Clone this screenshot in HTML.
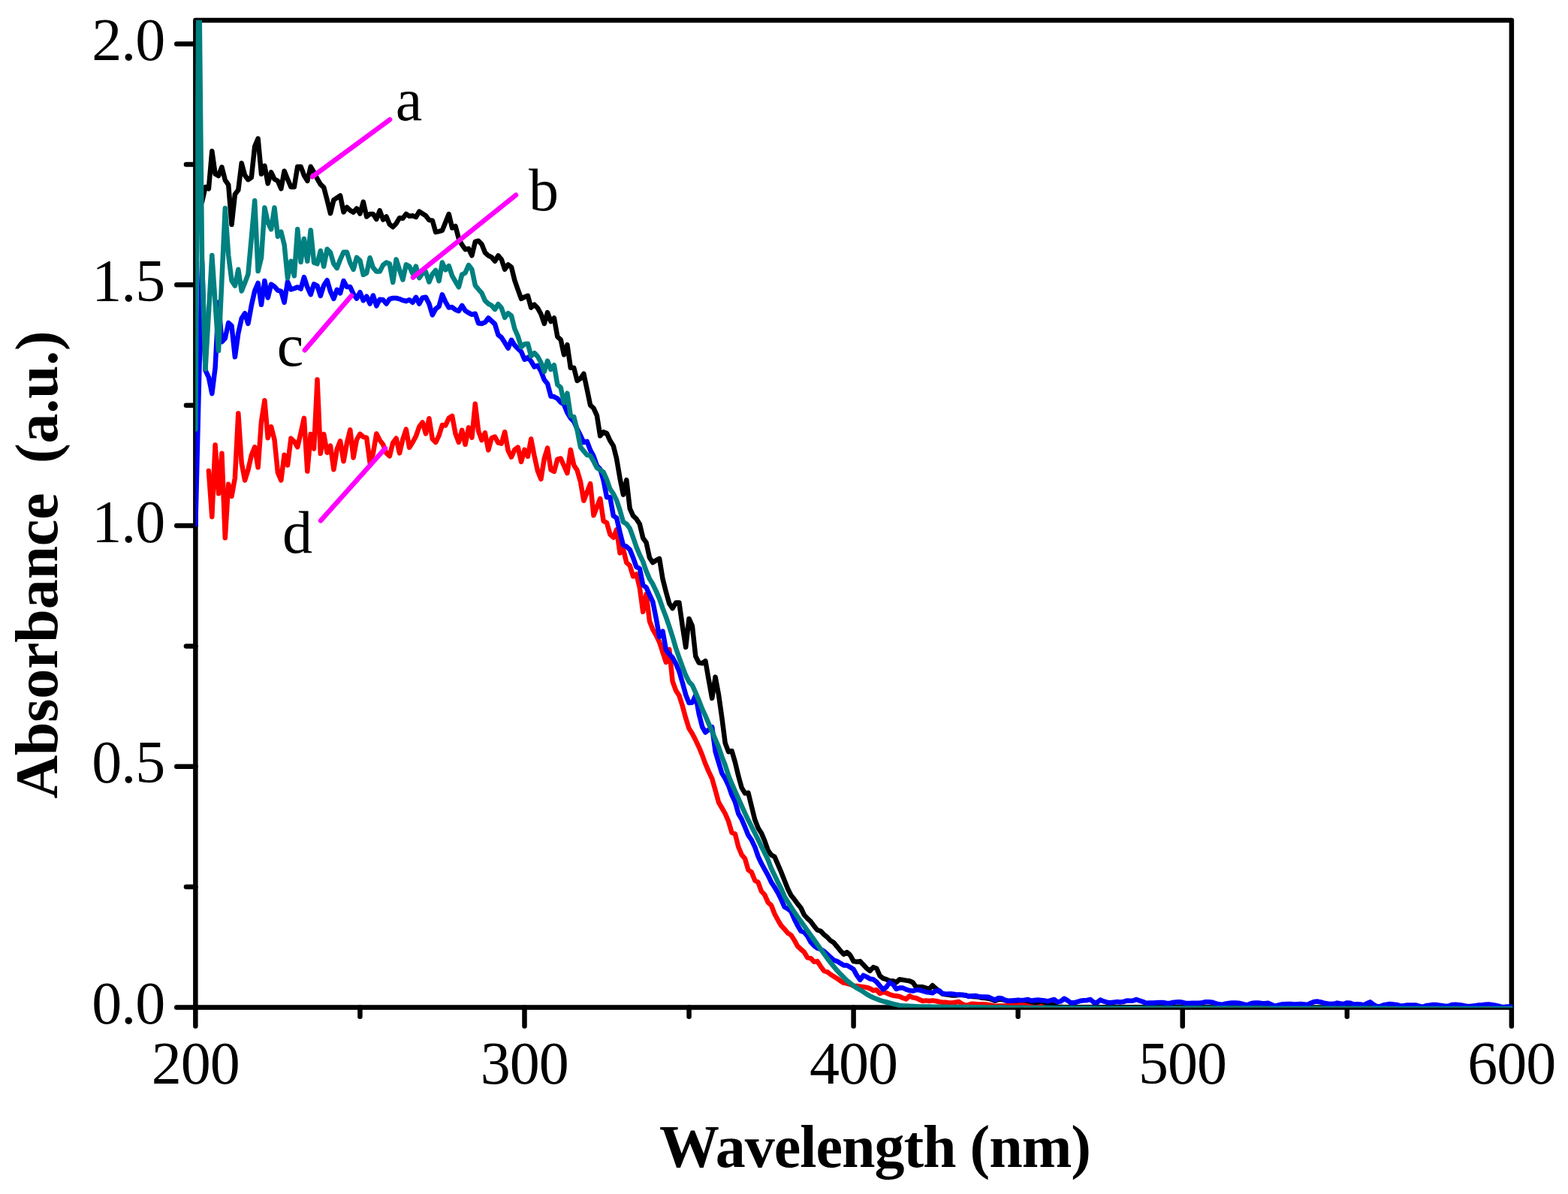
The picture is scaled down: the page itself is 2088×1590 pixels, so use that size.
<!DOCTYPE html>
<html><head><meta charset="utf-8"><title>UV-Vis absorbance spectra</title>
<style>
html,body{margin:0;padding:0;background:#fff;}
body{width:2088px;height:1590px;overflow:hidden;}
svg{display:block;}
text{font-family:"Liberation Serif",serif;fill:#000;}
.t{font-size:80px;letter-spacing:-1px;}
.b{font-size:80px;font-weight:bold;}
</style></head><body>
<svg width="2088" height="1590" viewBox="0 0 2088 1590">
<rect width="2088" height="1590" fill="#fff"/>
<g stroke="#000" stroke-width="6.5" stroke-linecap="round" stroke-linejoin="round" fill="none">
<rect x="260.35" y="27.00" width="1752.50" height="1314.45"/>
<line x1="235.25" y1="1341.45" x2="260.35" y2="1341.45"/>
<line x1="247.95" y1="1181.09" x2="260.35" y2="1181.09"/>
<line x1="235.25" y1="1020.74" x2="260.35" y2="1020.74"/>
<line x1="247.95" y1="860.38" x2="260.35" y2="860.38"/>
<line x1="235.25" y1="700.02" x2="260.35" y2="700.02"/>
<line x1="247.95" y1="539.67" x2="260.35" y2="539.67"/>
<line x1="235.25" y1="379.31" x2="260.35" y2="379.31"/>
<line x1="247.95" y1="218.96" x2="260.35" y2="218.96"/>
<line x1="235.25" y1="58.60" x2="260.35" y2="58.60"/>
<line x1="260.35" y1="1341.45" x2="260.35" y2="1366.55"/>
<line x1="479.41" y1="1341.45" x2="479.41" y2="1353.85"/>
<line x1="698.48" y1="1341.45" x2="698.48" y2="1366.55"/>
<line x1="917.54" y1="1341.45" x2="917.54" y2="1353.85"/>
<line x1="1136.60" y1="1341.45" x2="1136.60" y2="1366.55"/>
<line x1="1355.66" y1="1341.45" x2="1355.66" y2="1353.85"/>
<line x1="1574.72" y1="1341.45" x2="1574.72" y2="1366.55"/>
<line x1="1793.79" y1="1341.45" x2="1793.79" y2="1353.85"/>
<line x1="2012.85" y1="1341.45" x2="2012.85" y2="1366.55"/>
</g>
<defs><clipPath id="c"><rect x="260.15" y="26.80" width="1754.10" height="1315.05"/></clipPath></defs>
<g clip-path="url(#c)">
<polyline points="260.4,300.0 264.7,275.0 269.1,268.6 273.5,249.0 277.9,251.3 282.3,201.2 286.6,231.7 291.0,234.0 295.4,222.5 299.8,239.8 304.2,246.1 308.5,299.1 312.9,258.8 317.3,253.0 321.7,217.3 326.1,233.5 330.4,239.2 334.8,236.3 339.2,194.9 343.6,184.5 348.0,231.7 352.4,220.8 356.7,244.4 361.1,229.4 365.5,238.6 369.9,240.9 374.3,251.3 378.6,227.7 383.0,238.6 387.4,249.0 391.8,249.0 396.2,221.9 400.6,221.9 404.9,233.5 409.3,240.9 413.7,221.9 418.1,229.4 422.5,238.1 426.8,245.5 431.2,249.6 435.6,266.3 440.0,284.1 444.4,266.3 448.7,263.4 453.1,260.5 457.5,282.4 461.9,276.0 466.3,280.1 470.6,282.7 475.0,277.6 479.4,284.5 483.8,268.9 488.2,288.5 492.6,285.0 496.9,285.0 501.3,291.9 505.7,280.4 510.1,292.5 514.5,288.5 518.8,298.8 523.2,302.3 527.6,297.7 532.0,290.2 536.4,290.8 540.8,285.0 545.1,287.9 549.5,287.3 553.9,289.1 558.3,281.6 562.7,284.5 567.0,287.3 571.4,293.1 575.8,293.7 580.2,309.2 584.6,308.1 588.9,306.9 593.3,296.0 597.7,285.0 602.1,303.5 606.5,301.2 610.9,317.8 615.2,325.9 619.6,332.2 624.0,331.1 628.4,340.3 632.8,321.9 637.1,320.7 641.5,325.3 645.9,336.3 650.3,340.3 654.7,342.6 659.0,347.8 663.4,340.3 667.8,345.5 672.2,358.7 676.6,352.4 681.0,355.8 685.3,373.1 689.7,385.8 694.1,397.8 698.5,395.5 702.9,393.8 707.2,409.7 711.6,405.7 716.0,410.3 720.4,418.3 724.8,431.0 729.1,416.0 733.5,428.1 737.9,423.5 742.3,448.3 746.7,452.3 751.0,472.4 755.4,459.2 759.8,489.7 764.2,489.7 768.6,507.0 773.0,504.1 777.3,497.8 781.7,518.5 786.1,539.6 790.5,543.6 794.9,553.4 799.2,580.4 803.6,575.3 808.0,577.0 812.4,586.8 816.8,593.7 821.1,610.9 825.5,636.8 829.9,658.7 834.3,639.1 838.7,677.1 843.1,686.9 847.4,690.9 851.8,697.8 856.2,716.3 860.6,722.6 865.0,742.7 869.3,749.1 873.7,746.2 878.1,743.9 882.5,770.9 886.9,788.2 891.2,803.7 895.6,810.1 900.0,802.6 904.4,802.6 908.8,833.7 913.2,861.9 917.5,823.9 921.9,833.7 926.3,874.0 930.7,882.6 935.1,883.2 939.4,880.3 943.8,905.6 948.2,929.8 952.6,901.6 957.0,925.2 961.4,956.3 965.7,989.6 970.1,1001.2 974.5,1000.0 978.9,1015.0 983.3,1033.4 987.6,1048.9 992.0,1056.4 996.4,1055.8 1000.8,1073.7 1005.2,1091.5 1009.5,1102.4 1013.9,1109.4 1018.3,1119.7 1022.7,1132.4 1027.1,1138.7 1031.5,1141.0 1035.8,1151.1 1040.2,1161.3 1044.6,1172.4 1049.0,1183.5 1053.4,1192.2 1057.7,1197.6 1062.1,1203.6 1066.5,1209.0 1070.9,1218.4 1075.3,1223.1 1079.6,1227.1 1084.0,1233.1 1088.4,1238.5 1092.8,1239.8 1097.2,1244.5 1101.5,1247.9 1105.9,1252.6 1110.3,1255.3 1114.7,1260.6 1119.1,1266.0 1123.5,1270.7 1127.8,1268.0 1132.2,1272.0 1136.6,1280.1 1141.0,1280.7 1145.4,1280.1 1149.7,1284.8 1154.1,1289.5 1158.5,1292.8 1162.9,1288.1 1167.3,1289.5 1171.7,1299.5 1176.0,1302.9 1180.4,1304.2 1184.8,1306.2 1189.2,1306.2 1193.6,1308.2 1197.9,1304.2 1202.3,1304.9 1206.7,1305.6 1211.1,1306.2 1215.5,1308.2 1219.8,1314.3 1224.2,1314.3 1228.6,1314.3 1233.0,1315.6 1237.4,1317.0 1241.8,1312.3 1246.1,1316.3 1250.5,1320.2 1254.9,1323.5 1259.3,1324.2 1263.7,1324.9 1268.0,1325.5 1272.4,1325.5 1276.8,1324.9 1281.2,1324.9 1285.6,1325.4 1289.9,1326.4 1294.3,1326.9 1298.7,1327.3 1303.1,1327.6 1307.5,1328.8 1311.8,1329.1 1316.2,1329.7 1320.6,1330.9 1325.0,1332.8 1329.4,1330.9 1333.8,1330.7 1338.1,1332.2 1342.5,1333.2 1346.9,1332.8 1351.3,1332.8 1355.7,1332.8 1360.0,1332.8 1364.4,1333.7 1368.8,1334.7 1373.2,1335.7 1377.6,1335.9 1382.0,1336.2 1386.3,1336.5 1390.7,1335.9 1395.1,1335.3 1399.5,1336.5 1403.9,1338.4 1408.2,1341.0 1412.6,1341.1 1417.0,1341.2 1421.4,1341.2 1425.8,1341.2 1430.1,1341.2 1434.5,1341.2 1438.9,1341.2 1443.3,1341.2 1447.7,1341.2 1452.0,1341.2 1456.4,1341.2 1460.8,1341.2 1465.2,1341.2 1469.6,1341.2 1474.0,1341.2 1478.3,1341.2 1482.7,1341.2 1487.1,1341.2 1491.5,1341.2 1495.9,1341.2 1500.2,1341.3 1504.6,1341.3 1509.0,1341.3 1513.4,1341.3 1517.8,1341.3 1522.2,1341.3 1526.5,1341.3 1530.9,1341.3 1535.3,1341.3 1539.7,1341.3 1544.1,1341.3 1548.4,1341.3 1552.8,1341.3 1557.2,1341.3 1561.6,1341.3 1566.0,1341.3 1570.3,1341.3 1574.7,1341.3 1579.1,1341.3 1583.5,1341.4 1587.9,1341.4 1592.2,1341.5 1596.6,1341.5 1601.0,1341.6 1605.4,1341.6 1609.8,1341.6 1614.2,1341.7 1618.5,1341.7 1622.9,1341.8 1627.3,1341.8 1631.7,1341.9 1636.1,1341.9 1640.4,1341.9 1644.8,1342.0 1649.2,1342.0 1653.6,1342.1 1658.0,1342.1 1662.3,1342.2 1666.7,1342.2 1671.1,1342.3 1675.5,1342.3 1679.9,1342.3 1684.3,1342.4 1688.6,1342.4 1693.0,1342.5 1697.4,1342.5 1701.8,1342.6 1706.2,1342.6 1710.5,1342.6 1714.9,1342.6 1719.3,1342.6 1723.7,1342.6 1728.1,1342.6 1732.5,1342.6 1736.8,1342.6 1741.2,1342.6 1745.6,1342.7 1750.0,1342.7 1754.4,1342.7 1758.7,1342.7 1763.1,1342.7 1767.5,1342.7 1771.9,1342.7 1776.3,1342.7 1780.6,1342.7 1785.0,1342.7 1789.4,1342.7 1793.8,1342.7 1798.2,1342.7 1802.5,1342.7 1806.9,1342.7 1811.3,1342.7 1815.7,1342.7 1820.1,1342.7 1824.5,1342.8 1828.8,1342.8 1833.2,1342.8 1837.6,1342.8 1842.0,1342.8 1846.4,1342.8 1850.7,1342.8 1855.1,1342.8 1859.5,1342.8 1863.9,1342.8 1868.3,1342.8 1872.7,1342.8 1877.0,1342.8 1881.4,1342.8 1885.8,1342.8 1890.2,1342.8 1894.6,1342.8 1898.9,1342.9 1903.3,1342.9 1907.7,1342.9 1912.1,1342.9 1916.5,1342.9 1920.8,1342.9 1925.2,1342.9 1929.6,1342.9 1934.0,1342.9 1938.4,1342.9 1942.8,1342.9 1947.1,1342.9 1951.5,1342.9 1955.9,1342.9 1960.3,1342.9 1964.7,1342.9 1969.0,1342.9 1973.4,1342.9 1977.8,1343.0 1982.2,1343.0 1986.6,1343.0 1990.9,1343.0 1995.3,1343.0 1999.7,1343.0 2004.1,1343.0 2008.5,1343.0 2012.8,1343.0" fill="none" stroke="#000" stroke-width="6.5" stroke-linejoin="round" stroke-linecap="round"/>
<polyline points="277.9,627.1 282.3,688.2 286.6,592.4 291.0,657.2 295.4,603.8 299.8,716.3 304.2,644.8 308.5,660.9 312.9,636.5 317.3,550.4 321.7,616.6 326.1,639.6 330.4,625.8 334.8,606.3 339.2,595.3 343.6,622.4 348.0,561.4 352.4,533.2 356.7,583.2 361.1,568.3 365.5,585.5 369.9,629.3 374.3,639.6 378.6,605.7 383.0,619.5 387.4,583.8 391.8,587.8 396.2,595.3 400.6,576.3 404.9,556.8 409.3,627.6 413.7,578.1 418.1,597.6 422.5,505.5 426.8,604.0 431.2,578.1 435.6,602.8 440.0,593.6 444.4,625.3 448.7,598.2 453.1,587.3 457.5,614.3 461.9,590.1 466.3,572.3 470.6,609.4 475.0,585.5 479.4,577.8 483.8,581.8 488.2,582.9 492.6,616.0 496.9,603.4 501.3,577.5 505.7,586.1 510.1,591.9 514.5,603.4 518.8,607.4 523.2,589.6 527.6,583.8 532.0,603.4 536.4,585.0 540.8,571.7 545.1,595.9 549.5,589.0 553.9,580.9 558.3,568.3 562.7,562.5 567.0,577.5 571.4,557.3 575.8,584.4 580.2,589.0 584.6,579.8 588.9,566.0 593.3,566.5 597.7,556.8 602.1,553.9 606.5,577.5 610.9,589.0 615.2,572.9 619.6,591.9 624.0,569.4 628.4,582.7 632.8,537.8 637.1,574.0 641.5,586.1 645.9,576.3 650.3,599.4 654.7,583.2 659.0,581.5 663.4,589.6 667.8,590.7 672.2,575.2 676.6,599.9 681.0,608.7 685.3,598.9 689.7,595.7 694.1,615.0 698.5,598.9 702.9,607.8 707.2,584.5 711.6,607.1 716.0,627.2 720.4,638.1 724.8,610.5 729.1,596.7 733.5,625.5 737.9,627.8 742.3,611.7 746.7,610.5 751.0,620.3 755.4,630.1 759.8,599.0 764.2,619.4 768.6,626.3 773.0,641.5 777.3,666.8 781.7,655.3 786.1,644.1 790.5,686.3 794.9,675.2 799.2,664.0 803.6,693.8 808.0,696.1 812.4,711.7 816.8,715.7 821.1,705.3 825.5,736.4 829.9,731.2 834.3,749.1 838.7,753.1 843.1,767.5 847.4,764.6 851.8,782.4 856.2,814.7 860.6,791.1 865.0,827.3 869.3,838.3 873.7,845.8 878.1,855.0 882.5,868.8 886.9,882.0 891.2,864.7 895.6,907.3 900.0,919.4 904.4,926.3 908.8,940.1 913.2,956.3 917.5,970.1 921.9,977.0 926.3,985.6 930.7,994.8 935.1,1005.5 939.4,1017.3 943.8,1027.6 948.2,1036.8 952.6,1052.4 957.0,1068.5 961.4,1076.0 965.7,1083.5 970.1,1093.8 974.5,1108.8 978.9,1110.5 983.3,1127.8 987.6,1138.1 992.0,1143.3 996.4,1158.3 1000.8,1161.5 1005.2,1172.4 1009.5,1174.9 1013.9,1186.9 1018.3,1191.6 1022.7,1201.6 1027.1,1205.7 1031.5,1217.0 1035.8,1225.1 1040.2,1232.5 1044.6,1237.2 1049.0,1242.5 1053.4,1245.2 1057.7,1251.9 1062.1,1260.0 1066.5,1264.0 1070.9,1268.0 1075.3,1275.4 1079.6,1276.1 1084.0,1280.7 1088.4,1280.1 1092.8,1286.8 1097.2,1292.8 1101.5,1294.2 1105.9,1297.5 1110.3,1300.2 1114.7,1302.9 1119.1,1306.2 1123.5,1308.9 1127.8,1309.6 1132.2,1310.9 1136.6,1312.9 1141.0,1312.9 1145.4,1313.6 1149.7,1314.3 1154.1,1314.9 1158.5,1316.3 1162.9,1319.0 1167.3,1318.3 1171.7,1323.0 1176.0,1321.0 1180.4,1322.3 1184.8,1324.3 1189.2,1325.7 1193.6,1326.3 1197.9,1327.0 1202.3,1329.0 1206.7,1330.4 1211.1,1326.3 1215.5,1328.4 1219.8,1329.0 1224.2,1331.0 1228.6,1333.0 1233.0,1332.4 1237.4,1333.0 1241.8,1332.4 1246.1,1333.0 1250.5,1334.0 1254.9,1334.7 1259.3,1334.7 1263.7,1335.4 1268.0,1335.4 1272.4,1334.7 1276.8,1334.0 1281.2,1336.9 1285.6,1338.8 1289.9,1338.2 1294.3,1336.7 1298.7,1337.1 1303.1,1337.5 1307.5,1337.2 1311.8,1337.5 1316.2,1338.0 1320.6,1339.0 1325.0,1340.0 1329.4,1339.6 1333.8,1339.6 1338.1,1339.6 1342.5,1339.2 1346.9,1339.2 1351.3,1339.2 1355.7,1338.7 1360.0,1338.1 1364.4,1338.7 1368.8,1339.6 1373.2,1340.8 1377.6,1341.4 1382.0,1341.4 1386.3,1340.0 1390.7,1341.7 1395.1,1342.9 1399.5,1343.6 1403.9,1343.6 1408.2,1343.6 1412.6,1343.6 1417.0,1343.6 1421.4,1343.6 1425.8,1343.6 1430.1,1343.6 1434.5,1343.6 1438.9,1343.6 1443.3,1343.6 1447.7,1343.6 1452.0,1343.6 1456.4,1343.6 1460.8,1343.6 1465.2,1343.6 1469.6,1343.6 1474.0,1343.6 1478.3,1343.6 1482.7,1343.6 1487.1,1343.6 1491.5,1343.6 1495.9,1343.6 1500.2,1343.6 1504.6,1343.6 1509.0,1343.6 1513.4,1343.6 1517.8,1343.6 1522.2,1343.6 1526.5,1343.6 1530.9,1343.6 1535.3,1343.6 1539.7,1343.6 1544.1,1343.6 1548.4,1343.6 1552.8,1343.6 1557.2,1343.6 1561.6,1343.6 1566.0,1343.6 1570.3,1343.6 1574.7,1343.6 1579.1,1343.6 1583.5,1343.6 1587.9,1343.6 1592.2,1343.6 1596.6,1343.6 1601.0,1343.6 1605.4,1343.6 1609.8,1343.6 1614.2,1343.6 1618.5,1343.6 1622.9,1343.6 1627.3,1343.6 1631.7,1343.6 1636.1,1343.6 1640.4,1343.6 1644.8,1343.6 1649.2,1343.6 1653.6,1343.6 1658.0,1343.6 1662.3,1343.6 1666.7,1343.6 1671.1,1343.6 1675.5,1343.6 1679.9,1343.6 1684.3,1343.6 1688.6,1343.6 1693.0,1343.6 1697.4,1343.6 1701.8,1343.6 1706.2,1343.6 1710.5,1343.6 1714.9,1343.6 1719.3,1343.6 1723.7,1343.6 1728.1,1343.6 1732.5,1343.6 1736.8,1343.6 1741.2,1343.6 1745.6,1343.6 1750.0,1343.6 1754.4,1343.6 1758.7,1343.6 1763.1,1343.6 1767.5,1343.6 1771.9,1343.6 1776.3,1343.6 1780.6,1343.6 1785.0,1343.6 1789.4,1343.6 1793.8,1343.6 1798.2,1343.6 1802.5,1343.6 1806.9,1343.6 1811.3,1343.6 1815.7,1343.6 1820.1,1343.6 1824.5,1343.6 1828.8,1343.6 1833.2,1343.6 1837.6,1343.6 1842.0,1343.6 1846.4,1343.6 1850.7,1343.6 1855.1,1343.6 1859.5,1343.6 1863.9,1343.6 1868.3,1343.6 1872.7,1343.6 1877.0,1343.6 1881.4,1343.6 1885.8,1343.6 1890.2,1343.6 1894.6,1343.6 1898.9,1343.6 1903.3,1343.6 1907.7,1343.6 1912.1,1343.6 1916.5,1343.6 1920.8,1343.6 1925.2,1343.6 1929.6,1343.6 1934.0,1343.6 1938.4,1343.6 1942.8,1343.6 1947.1,1343.6 1951.5,1343.6 1955.9,1343.6 1960.3,1343.6 1964.7,1343.6 1969.0,1343.6 1973.4,1343.6 1977.8,1343.6 1982.2,1343.6 1986.6,1343.6 1990.9,1343.6 1995.3,1343.6 1999.7,1343.6 2004.1,1343.6 2008.5,1343.6 2012.8,1343.6" fill="none" stroke="#f00" stroke-width="6.5" stroke-linejoin="round" stroke-linecap="round"/>
<polyline points="260.4,698.4 264.7,520.0 269.1,348.0 273.5,493.2 277.9,502.4 282.3,524.2 286.6,489.7 291.0,402.8 295.4,455.2 299.8,450.6 304.2,429.9 308.5,433.9 312.9,475.3 317.3,443.7 321.7,424.1 326.1,417.2 330.4,431.0 334.8,406.8 339.2,387.3 343.6,376.9 348.0,405.7 352.4,374.0 356.7,396.5 361.1,378.6 365.5,381.5 369.9,386.7 374.3,387.8 378.6,402.8 383.0,375.2 387.4,385.5 391.8,384.1 396.2,382.4 400.6,384.7 404.9,369.1 409.3,382.4 413.7,392.2 418.1,378.3 422.5,380.6 426.8,393.9 431.2,380.1 435.6,373.2 440.0,388.1 444.4,397.9 448.7,385.8 453.1,390.4 457.5,374.0 461.9,382.1 466.3,382.1 470.6,391.3 475.0,397.6 479.4,389.2 483.8,400.2 488.2,394.7 492.6,404.5 496.9,393.5 501.3,407.3 505.7,398.7 510.1,399.3 514.5,404.5 518.8,398.1 523.2,397.0 527.6,397.0 532.0,398.1 536.4,399.9 540.8,401.0 545.1,399.3 549.5,402.7 553.9,395.8 558.3,404.5 562.7,396.4 567.0,395.8 571.4,404.5 575.8,419.4 580.2,411.4 584.6,407.9 588.9,392.4 593.3,402.2 597.7,409.6 602.1,409.1 606.5,412.5 610.9,414.2 615.2,406.8 619.6,413.7 624.0,416.5 628.4,418.8 632.8,417.7 637.1,430.4 641.5,430.9 645.9,429.2 650.3,423.5 654.7,427.5 659.0,431.5 663.4,445.9 667.8,449.4 672.2,456.3 676.6,463.7 681.0,452.8 685.3,459.7 689.7,464.4 694.1,468.4 698.5,478.7 702.9,475.9 707.2,481.0 711.6,488.6 716.0,486.8 720.4,494.3 724.8,505.8 729.1,511.0 733.5,527.7 737.9,528.3 742.3,530.6 746.7,535.8 751.0,538.6 755.4,549.6 759.8,556.8 764.2,561.4 768.6,571.2 773.0,579.9 777.3,589.1 781.7,587.9 786.1,599.4 790.5,607.5 794.9,620.1 799.2,624.7 803.6,639.7 808.0,662.2 812.4,662.2 816.8,686.9 821.1,689.8 825.5,708.8 829.9,726.0 834.3,727.8 838.7,731.8 843.1,742.7 847.4,754.8 851.8,757.1 856.2,779.0 860.6,782.4 865.0,792.2 869.3,801.4 873.7,823.3 878.1,848.1 882.5,840.6 886.9,865.3 891.2,871.1 895.6,875.7 900.0,883.7 904.4,894.1 908.8,909.1 913.2,925.2 917.5,936.1 921.9,935.5 926.3,925.8 930.7,950.5 935.1,967.8 939.4,975.3 943.8,971.8 948.2,968.3 952.6,1000.9 957.0,1015.5 961.4,1029.9 965.7,1036.8 970.1,1046.0 974.5,1058.7 978.9,1067.9 983.3,1083.5 987.6,1090.9 992.0,1101.3 996.4,1112.2 1000.8,1118.6 1005.2,1127.8 1009.5,1140.4 1013.9,1149.8 1018.3,1157.8 1022.7,1165.6 1027.1,1174.9 1031.5,1181.5 1035.8,1188.9 1040.2,1197.6 1044.6,1207.7 1049.0,1210.3 1053.4,1213.7 1057.7,1223.8 1062.1,1232.5 1066.5,1239.8 1070.9,1241.2 1075.3,1246.6 1079.6,1254.6 1084.0,1259.3 1088.4,1262.6 1092.8,1264.0 1097.2,1266.7 1101.5,1270.7 1105.9,1274.7 1110.3,1278.7 1114.7,1280.1 1119.1,1282.8 1123.5,1285.4 1127.8,1285.4 1132.2,1288.1 1136.6,1290.8 1141.0,1298.9 1145.4,1304.9 1149.7,1298.9 1154.1,1300.9 1158.5,1303.5 1162.9,1304.2 1167.3,1307.6 1171.7,1312.9 1176.0,1317.6 1180.4,1314.3 1184.8,1308.2 1189.2,1310.9 1193.6,1317.0 1197.9,1315.6 1202.3,1315.6 1206.7,1317.6 1211.1,1319.0 1215.5,1319.6 1219.8,1318.3 1224.2,1318.3 1228.6,1319.6 1233.0,1321.0 1237.4,1321.6 1241.8,1322.3 1246.1,1319.6 1250.5,1319.0 1254.9,1323.0 1259.3,1323.7 1263.7,1323.4 1268.0,1323.6 1272.4,1324.2 1276.8,1324.4 1281.2,1324.7 1285.6,1325.3 1289.9,1327.0 1294.3,1326.2 1298.7,1326.0 1303.1,1327.0 1307.5,1327.5 1311.8,1327.5 1316.2,1327.8 1320.6,1329.7 1325.0,1331.6 1329.4,1329.1 1333.8,1329.4 1338.1,1331.6 1342.5,1332.8 1346.9,1332.8 1351.3,1332.2 1355.7,1331.6 1360.0,1332.2 1364.4,1331.6 1368.8,1330.9 1373.2,1332.8 1377.6,1331.9 1382.0,1331.6 1386.3,1331.9 1390.7,1332.4 1395.1,1333.4 1399.5,1332.2 1403.9,1330.9 1408.2,1334.4 1412.6,1333.4 1417.0,1329.7 1421.4,1332.2 1425.8,1335.3 1430.1,1335.3 1434.5,1334.1 1438.9,1332.8 1443.3,1332.2 1447.7,1331.9 1452.0,1330.9 1456.4,1334.7 1460.8,1335.3 1465.2,1331.6 1469.6,1333.4 1474.0,1334.7 1478.3,1335.3 1482.7,1334.7 1487.1,1334.1 1491.5,1334.4 1495.9,1334.1 1500.2,1332.6 1504.6,1332.7 1509.0,1332.5 1513.4,1330.9 1517.8,1332.7 1522.2,1334.2 1526.5,1335.7 1530.9,1335.5 1535.3,1335.4 1539.7,1335.2 1544.1,1335.0 1548.4,1335.0 1552.8,1335.8 1557.2,1336.1 1561.6,1335.0 1566.0,1334.6 1570.3,1334.3 1574.7,1334.8 1579.1,1335.9 1583.5,1335.9 1587.9,1335.7 1592.2,1335.7 1596.6,1335.7 1601.0,1335.1 1605.4,1334.3 1609.8,1334.2 1614.2,1334.7 1618.5,1336.0 1622.9,1337.3 1627.3,1337.8 1631.7,1336.7 1636.1,1335.9 1640.4,1335.5 1644.8,1335.5 1649.2,1335.7 1653.6,1336.7 1658.0,1337.9 1662.3,1337.7 1666.7,1336.0 1671.1,1335.6 1675.5,1335.6 1679.9,1336.1 1684.3,1336.2 1688.6,1335.7 1693.0,1337.7 1697.4,1339.8 1701.8,1338.6 1706.2,1337.6 1710.5,1337.3 1714.9,1336.9 1719.3,1336.9 1723.7,1337.6 1728.1,1337.3 1732.5,1337.0 1736.8,1337.4 1741.2,1337.9 1745.6,1335.8 1750.0,1333.9 1754.4,1333.6 1758.7,1334.5 1763.1,1335.6 1767.5,1336.5 1771.9,1337.0 1776.3,1336.8 1780.6,1335.6 1785.0,1336.5 1789.4,1337.0 1793.8,1335.4 1798.2,1335.8 1802.5,1337.5 1806.9,1337.2 1811.3,1337.5 1815.7,1338.5 1820.1,1336.3 1824.5,1334.4 1828.8,1337.6 1833.2,1340.0 1837.6,1340.2 1842.0,1338.4 1846.4,1337.6 1850.7,1336.9 1855.1,1337.4 1859.5,1337.9 1863.9,1339.2 1868.3,1339.4 1872.7,1338.6 1877.0,1338.5 1881.4,1338.5 1885.8,1338.6 1890.2,1339.8 1894.6,1341.0 1898.9,1339.3 1903.3,1338.6 1907.7,1337.9 1912.1,1338.0 1916.5,1338.7 1920.8,1339.3 1925.2,1340.0 1929.6,1339.6 1934.0,1337.9 1938.4,1337.7 1942.8,1338.2 1947.1,1338.8 1951.5,1339.6 1955.9,1340.3 1960.3,1339.7 1964.7,1339.1 1969.0,1338.6 1973.4,1338.2 1977.8,1337.7 1982.2,1337.4 1986.6,1338.0 1990.9,1338.6 1995.3,1339.6 1999.7,1340.9 2004.1,1340.8 2008.5,1340.5 2012.8,1340.4" fill="none" stroke="#00f" stroke-width="6.5" stroke-linejoin="round" stroke-linecap="round"/>
<polyline points="260.4,571.5 264.7,-75.0 269.1,350.0 273.5,491.5 277.9,416.0 282.3,340.0 286.6,404.0 291.0,467.0 295.4,373.0 299.8,277.3 304.2,339.8 308.5,373.7 312.9,380.6 317.3,358.8 321.7,387.6 326.1,376.6 330.4,365.1 334.8,316.8 339.2,267.3 343.6,361.1 348.0,343.2 352.4,276.5 356.7,296.0 361.1,305.3 365.5,276.5 369.9,315.0 374.3,308.7 378.6,326.0 383.0,370.3 387.4,347.8 391.8,367.4 396.2,305.3 400.6,349.0 404.9,317.9 409.3,347.8 413.7,306.4 418.1,349.6 422.5,351.3 426.8,334.0 431.2,354.7 435.6,331.7 440.0,336.3 444.4,351.3 448.7,357.1 453.1,345.5 457.5,335.8 461.9,335.8 466.3,350.1 470.6,358.8 475.0,342.9 479.4,346.9 483.8,365.9 488.2,363.6 492.6,343.2 496.9,356.4 501.3,361.6 505.7,361.6 510.1,352.9 514.5,349.5 518.8,351.2 523.2,376.0 527.6,345.5 532.0,359.3 536.4,372.5 540.8,352.4 545.1,354.7 549.5,364.5 553.9,354.7 558.3,370.2 562.7,363.9 567.0,362.2 571.4,375.4 575.8,365.0 580.2,359.9 584.6,374.2 588.9,349.5 593.3,359.3 597.7,354.1 602.1,367.3 606.5,374.8 610.9,382.3 615.2,365.6 619.6,363.3 624.0,353.1 628.4,358.8 632.8,379.9 637.1,385.3 641.5,390.2 645.9,400.4 650.3,404.5 654.7,406.8 659.0,411.9 663.4,405.0 667.8,410.2 672.2,422.9 676.6,417.1 681.0,420.6 685.3,437.8 689.7,447.7 694.1,462.1 698.5,458.3 702.9,457.7 707.2,474.1 711.6,470.1 716.0,474.7 720.4,482.8 724.8,494.9 729.1,480.5 733.5,492.0 737.9,486.3 742.3,512.2 746.7,516.2 751.0,536.3 755.4,523.7 759.8,553.4 764.2,555.1 768.6,572.9 773.0,595.4 777.3,600.6 781.7,605.8 786.1,606.9 790.5,614.4 794.9,623.0 799.2,625.9 803.6,628.8 808.0,638.6 812.4,651.2 816.8,657.6 821.1,666.2 825.5,679.4 829.9,695.0 834.3,697.8 838.7,703.6 843.1,715.7 847.4,728.3 851.8,738.7 856.2,747.9 860.6,760.6 865.0,770.9 869.3,777.8 873.7,787.1 878.1,797.4 882.5,810.1 886.9,821.6 891.2,834.2 895.6,848.1 900.0,863.0 904.4,875.7 908.8,887.8 913.2,899.3 917.5,907.9 921.9,912.5 926.3,922.3 930.7,932.7 935.1,944.2 939.4,953.4 943.8,963.7 948.2,974.1 952.6,984.5 957.0,994.8 961.4,1007.8 965.7,1019.0 970.1,1032.8 974.5,1043.7 978.9,1053.5 983.3,1063.3 987.6,1073.1 992.0,1082.9 996.4,1092.1 1000.8,1100.7 1005.2,1109.4 1009.5,1118.0 1013.9,1127.2 1018.3,1135.8 1022.7,1145.0 1027.1,1156.5 1031.5,1165.7 1035.8,1174.7 1040.2,1183.2 1044.6,1193.6 1049.0,1200.9 1053.4,1207.9 1057.7,1214.5 1062.1,1220.9 1066.5,1227.0 1070.9,1233.1 1075.3,1239.3 1079.6,1245.4 1084.0,1251.5 1088.4,1257.7 1092.8,1263.8 1097.2,1269.9 1101.5,1276.0 1105.9,1281.7 1110.3,1287.1 1114.7,1292.3 1119.1,1297.1 1123.5,1301.6 1127.8,1305.9 1132.2,1309.4 1136.6,1312.7 1141.0,1315.7 1145.4,1318.3 1149.7,1320.8 1154.1,1323.9 1158.5,1326.3 1162.9,1328.5 1167.3,1330.2 1171.7,1332.0 1176.0,1333.3 1180.4,1334.5 1184.8,1335.7 1189.2,1336.8 1193.6,1337.9 1197.9,1338.9 1202.3,1339.3 1206.7,1339.5 1211.1,1339.8 1215.5,1340.1 1219.8,1340.3 1224.2,1340.5 1228.6,1340.5 1233.0,1340.6 1237.4,1340.6 1241.8,1340.7 1246.1,1340.7 1250.5,1340.7 1254.9,1340.8 1259.3,1340.8 1263.7,1340.9 1268.0,1340.9 1272.4,1340.9 1276.8,1341.0 1281.2,1341.0 1285.6,1341.1 1289.9,1341.1 1294.3,1341.2 1298.7,1341.2 1303.1,1341.3 1307.5,1341.3 1311.8,1341.4 1316.2,1341.4 1320.6,1341.5 1325.0,1341.5 1329.4,1341.6 1333.8,1341.6 1338.1,1341.6 1342.5,1341.7 1346.9,1341.7 1351.3,1341.7 1355.7,1341.8 1360.0,1341.8 1364.4,1341.8 1368.8,1341.9 1373.2,1341.9 1377.6,1341.9 1382.0,1342.0 1386.3,1342.0 1390.7,1342.1 1395.1,1342.1 1399.5,1342.1 1403.9,1342.2 1408.2,1342.2 1412.6,1342.2 1417.0,1342.3 1421.4,1342.3 1425.8,1342.3 1430.1,1342.3 1434.5,1342.3 1438.9,1342.3 1443.3,1342.3 1447.7,1342.3 1452.0,1342.3 1456.4,1342.3 1460.8,1342.4 1465.2,1342.4 1469.6,1342.4 1474.0,1342.4 1478.3,1342.4 1482.7,1342.4 1487.1,1342.4 1491.5,1342.4 1495.9,1342.4 1500.2,1342.4 1504.6,1342.4 1509.0,1342.4 1513.4,1342.4 1517.8,1342.4 1522.2,1342.4 1526.5,1342.4 1530.9,1342.4 1535.3,1342.4 1539.7,1342.5 1544.1,1342.5 1548.4,1342.5 1552.8,1342.5 1557.2,1342.5 1561.6,1342.5 1566.0,1342.5 1570.3,1342.5 1574.7,1342.5 1579.1,1342.5 1583.5,1342.5 1587.9,1342.5 1592.2,1342.5 1596.6,1342.5 1601.0,1342.5 1605.4,1342.5 1609.8,1342.5 1614.2,1342.6 1618.5,1342.6 1622.9,1342.6 1627.3,1342.6 1631.7,1342.6 1636.1,1342.6 1640.4,1342.6 1644.8,1342.6 1649.2,1342.6 1653.6,1342.6 1658.0,1342.6 1662.3,1342.6 1666.7,1342.6 1671.1,1342.6 1675.5,1342.6 1679.9,1342.6 1684.3,1342.7 1688.6,1342.7 1693.0,1342.7 1697.4,1342.7 1701.8,1342.7 1706.2,1342.7 1710.5,1342.7 1714.9,1342.7 1719.3,1342.7 1723.7,1342.7 1728.1,1342.7 1732.5,1342.7 1736.8,1342.7 1741.2,1342.7 1745.6,1342.7 1750.0,1342.7 1754.4,1342.7 1758.7,1342.8 1763.1,1342.8 1767.5,1342.8 1771.9,1342.8 1776.3,1342.8 1780.6,1342.8 1785.0,1342.8 1789.4,1342.8 1793.8,1342.8 1798.2,1342.8 1802.5,1342.8 1806.9,1342.8 1811.3,1342.8 1815.7,1342.8 1820.1,1342.8 1824.5,1342.8 1828.8,1342.8 1833.2,1342.8 1837.6,1342.8 1842.0,1342.8 1846.4,1342.8 1850.7,1342.9 1855.1,1342.9 1859.5,1342.9 1863.9,1342.9 1868.3,1342.9 1872.7,1342.9 1877.0,1342.9 1881.4,1342.9 1885.8,1342.9 1890.2,1342.9 1894.6,1342.9 1898.9,1342.9 1903.3,1342.9 1907.7,1342.9 1912.1,1342.9 1916.5,1342.9 1920.8,1342.9 1925.2,1342.9 1929.6,1342.9 1934.0,1342.9 1938.4,1342.9 1942.8,1342.9 1947.1,1342.9 1951.5,1342.9 1955.9,1342.9 1960.3,1343.0 1964.7,1343.0 1969.0,1343.0 1973.4,1343.0 1977.8,1343.0 1982.2,1343.0 1986.6,1343.0 1990.9,1343.0 1995.3,1343.0 1999.7,1343.0 2004.1,1343.0 2008.5,1343.0 2012.8,1343.0" fill="none" stroke="#008080" stroke-width="6.5" stroke-linejoin="round" stroke-linecap="round"/>
</g>
<g stroke="#f0f" stroke-width="6.5" stroke-linecap="round">
<line x1="416.2" y1="235.2" x2="519" y2="159.3"/>
<line x1="550" y1="369.5" x2="687" y2="259.7"/>
<line x1="405.9" y1="466.2" x2="467.9" y2="393.8"/>
<line x1="427" y1="693.3" x2="513" y2="597"/>
</g>
<text class="t" x="219.30" y="1362.95" text-anchor="end">0.0</text>
<text class="t" x="219.30" y="1042.24" text-anchor="end">0.5</text>
<text class="t" x="219.30" y="721.52" text-anchor="end">1.0</text>
<text class="t" x="219.30" y="400.81" text-anchor="end">1.5</text>
<text class="t" x="219.30" y="80.10" text-anchor="end">2.0</text>
<text class="t" x="260.15" y="1443.20" text-anchor="middle">200</text>
<text class="t" x="698.27" y="1443.20" text-anchor="middle">300</text>
<text class="t" x="1136.40" y="1443.20" text-anchor="middle">400</text>
<text class="t" x="1574.52" y="1443.20" text-anchor="middle">500</text>
<text class="t" x="2012.65" y="1443.20" text-anchor="middle">600</text>
<text class="b" x="1165.00" y="1553.60" text-anchor="middle" style="font-size:80px;letter-spacing:-1px">Wavelength (nm)</text>
<text class="b" transform="translate(76.30,752.00) rotate(-90)" text-anchor="middle" style="font-size:80px;white-space:pre;letter-spacing:-0.2px" xml:space="preserve">Absorbance  (a.u.)</text>
<text class="t" x="526.7" y="160.3" style="font-size:80px">a</text>
<text class="t" x="704" y="280.3" style="font-size:80px">b</text>
<text class="t" x="368.7" y="487.0" style="font-size:80px">c</text>
<text class="t" x="376" y="735.6" style="font-size:80px">d</text>
</svg>
</body></html>
